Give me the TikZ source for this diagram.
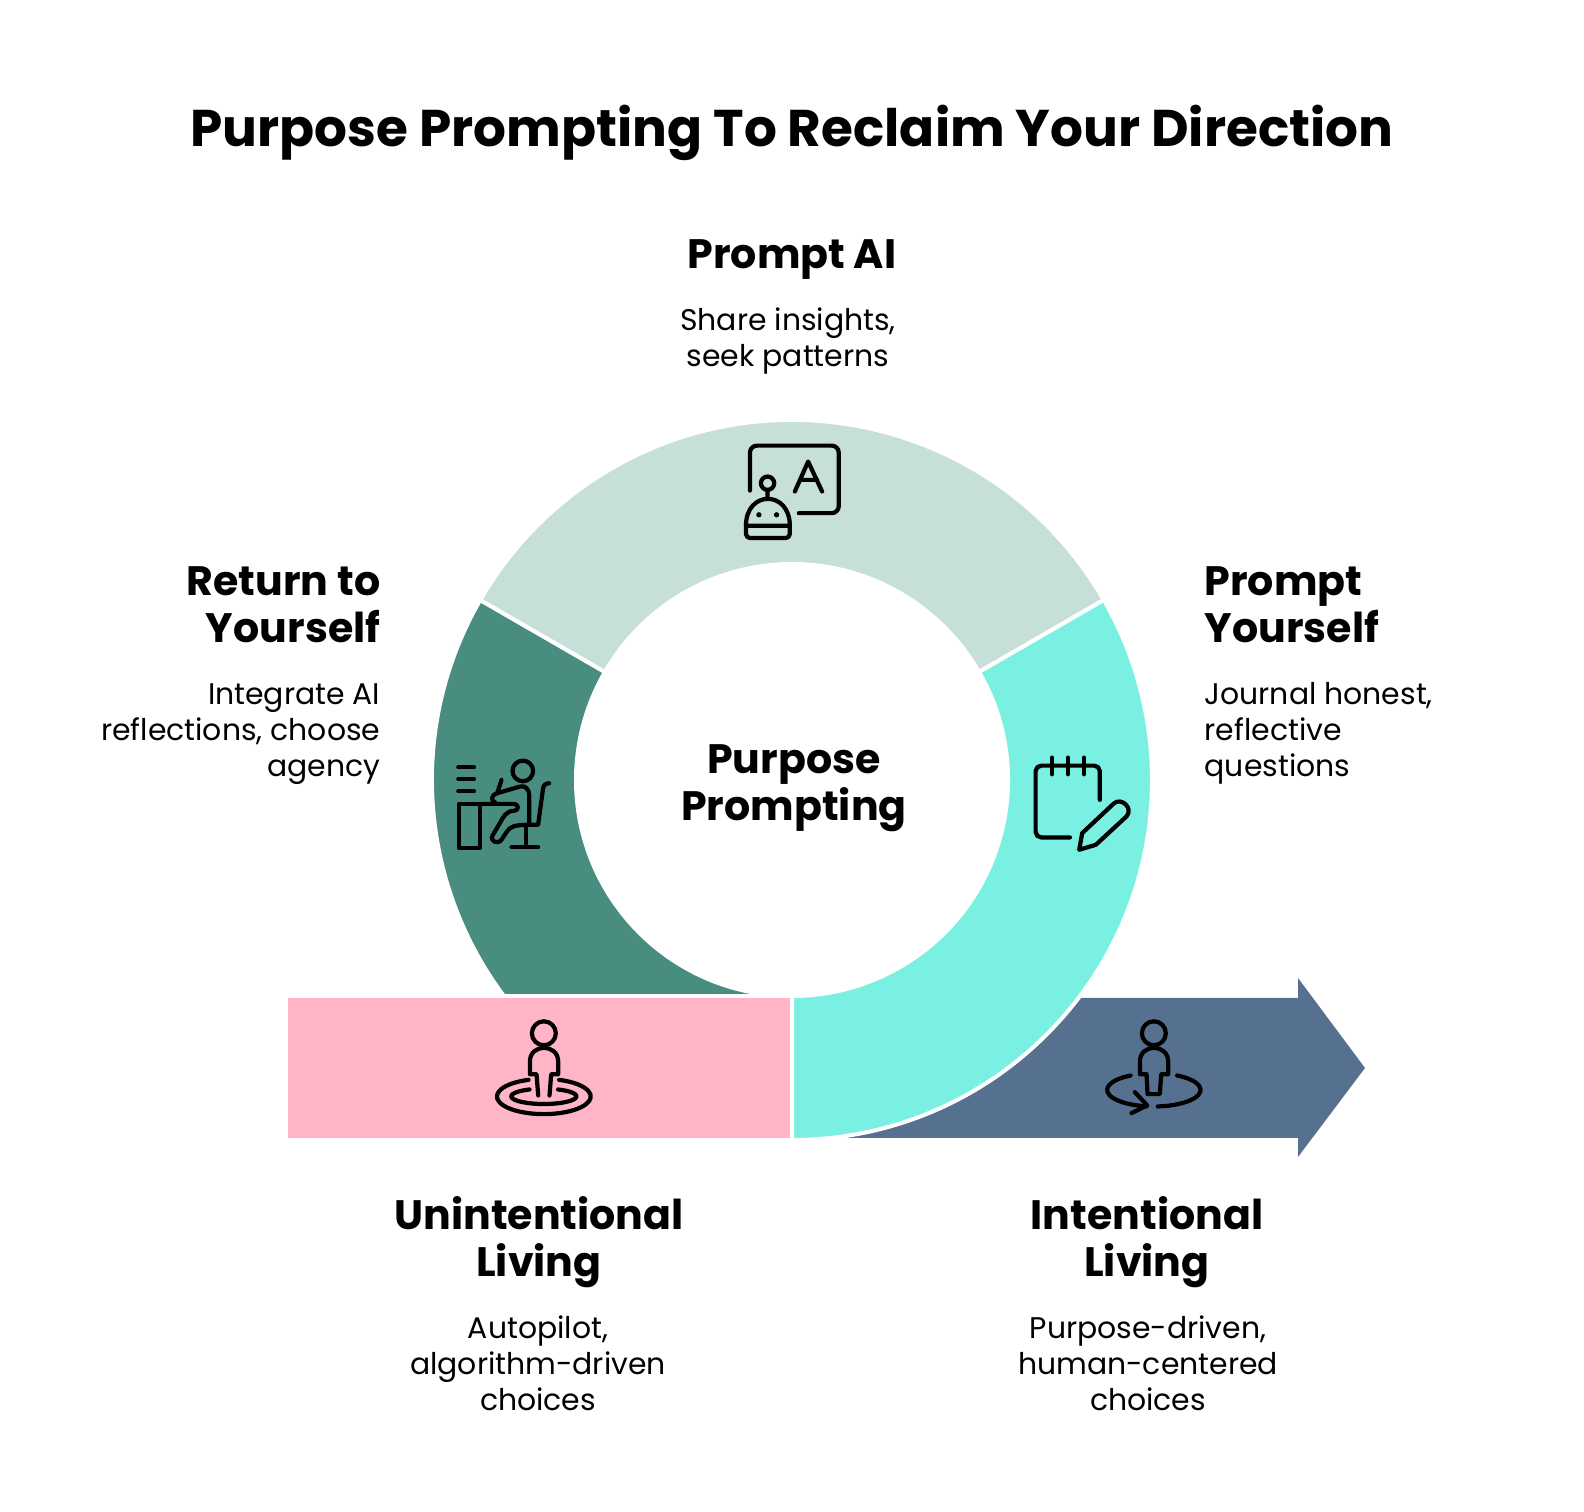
\documentclass[tikz,border=0pt]{standalone}
\usepackage{fontspec}
\setmainfont{Poppins}
\usetikzlibrary{positioning}
\definecolor{ringsage}  {RGB}{198,223,216}
\definecolor{ringforest}{RGB}{72,141,127}
\definecolor{ringteal}  {RGB}{122,240,226}
\definecolor{barpink}   {RGB}{255,181,198}
\definecolor{barslate}  {RGB}{86,113,143}

\begin{document}
\begin{tikzpicture}[
  every node/.style={inner sep=0pt},
  titletext/.style={font=\fontsize{14.7}{17}\selectfont\bfseries},
  headtext/.style={font=\fontsize{11.7}{13.47}\selectfont\bfseries,align=center},
  bodytext/.style={font=\fontsize{8.5}{10.2}\selectfont,align=center},
  seg/.style={draw=white,line width=0.04cm},
  iconline/.style={draw=black,line width=1.2pt,line cap=round,line join=round},
  iconbox/.style={x=0.0033333cm,y=-0.0033333cm},
]
\useasboundingbox (0,0) rectangle (15.84,15.12);

%% ── Title ────────────────────────────────────────────────────────────────
\node[titletext] (title) at (7.92,13.79) {Purpose Prompting To Reclaim Your Direction};

%% ── Ring and bar ─────────────────────────────────────────────────────────
\foreach \segcol/\anga/\angb in {ringforest/150/270,ringsage/30/150}
  \draw[seg,fill=\segcol] (7.92,7.32) ++(\anga:3.6) arc (\anga:\angb:3.6)
    -- ++(\angb:-1.44) arc (\angb:\anga:2.16) -- cycle;

\fill[barslate] (7.94,5.14) -- (12.98,5.14) -- (12.98,5.34) -- (13.65,4.44)
  -- (12.98,3.55) -- (12.98,3.74) -- (7.94,3.74) -- cycle;

\draw[seg,fill=ringteal] (7.92,7.32) ++(-90:3.6) arc (-90:30:3.6)
  -- ++(30:-1.44) arc (30:-90:2.16) -- cycle;

\draw[seg,fill=barpink] (2.86,3.72) rectangle (7.92,5.16);

%% ── Centre ───────────────────────────────────────────────────────────────
\node[headtext] (centre) at (7.94,7.24) {Purpose\\Prompting};

%% ── Labels ───────────────────────────────────────────────────────────────
\node[headtext] (promptai) at (7.92,12.52) {Prompt AI};
\node[bodytext] (promptaibody) at (7.88,11.71) {Share insights,\\seek patterns};

\node[headtext,align=right,anchor=east] (returnhead) at (3.81,9.07) {Return to\\Yourself};
\node[bodytext,align=right,anchor=east] (returnbody) at (3.81,7.78)
  {Integrate AI\\reflections, choose\\agency};

\node[headtext,align=left,anchor=west] (selfhead) at (12.04,9.07) {Prompt\\Yourself};
\node[bodytext,align=left,anchor=west] (selfbody) at (12.04,7.79)
  {Journal honest,\\reflective\\questions};

\node[headtext] (unhead) at (5.39,2.7) {Unintentional\\Living};
\node[bodytext] (unbody) at (5.38,1.49) {Autopilot,\\algorithm-driven\\choices};

\node[headtext] (inhead) at (11.47,2.7) {Intentional\\Living};
\node[bodytext] (inbody) at (11.48,1.49) {Purpose-driven,\\human-centered\\choices};

%% ── Icon: robot and letter ───────────────────────────────────────────────
\begin{scope}[shift={(7.2,10.82)},iconbox]
  \draw[iconline,rounded corners=2pt] (90,182) -- (90,47) -- (357,47) -- (357,250) -- (237,250);
  \draw[iconline] (225,185) -- (265,95) -- (307,185) (240,150) -- (292,150);
  \draw[iconline] (143,160) circle (20) (143,180) -- (143,203);
  \draw[iconline,rounded corners=1.2pt] (78,285) -- (78,325) -- (210,325) -- (210,285);
  \draw[iconline] (78,288) .. controls (78,180) and (210,180) .. (210,288) -- cycle;
  \fill (117,255) circle (8) (170,255) circle (8);
\end{scope}

%% ── Icon: person at desk ─────────────────────────────────────────────────
\begin{scope}[shift={(4.4,7.67)},iconbox]
  \draw[iconline] (55,67) -- (102,67) (55,102) -- (102,102) (55,139) -- (102,139);
  \draw[iconline] (57,177) rectangle (120,310);
  \draw[iconline] (249,78) circle (31);
  \draw[iconline] (120,177) -- (222,177) .. controls (238,177) and (238,198) .. (222,198)
    .. controls (200,198) and (190,215) .. (180,235) -- (158,272)
    .. controls (150,290) and (172,300) .. (185,285) -- (200,262)
    .. controls (210,245) and (225,240) .. (268,240);
  \draw[iconline] (185,105) -- (172,145) .. controls (150,152) and (155,170) .. (165,172);
  \draw[iconline] (172,145) -- (240,125) .. controls (258,120) and (268,135) .. (268,150) -- (268,240)
    -- (295,240) -- (310,130) .. controls (312,120) and (318,115) .. (328,115);
  \draw[iconline] (258,240) -- (258,307) (215,307) -- (295,307);
\end{scope}

%% ── Icon: notepad and pencil ─────────────────────────────────────────────
\begin{scope}[shift={(10.2,7.67)},iconbox]
  \draw[iconline,rounded corners=1.6pt] (240,165) -- (240,62) -- (47,62) -- (47,278) -- (150,278);
  \draw[iconline] (96,38) -- (96,88) (144,38) -- (144,88) (192,38) -- (192,88);
  \draw[iconline] (178,315) -- (187,265) -- (283,175) .. controls (305,157) and (342,190) .. (320,215)
    -- (228,300) -- cycle;
\end{scope}

%% ── Icon: person in still rings ──────────────────────────────────────────
\begin{scope}[shift={(4.8,5.07)},iconbox]
  \draw[iconline] (192,85) circle (36);
  \draw[iconline] (175,272) -- (170,208) -- (150,208) -- (150,170)
    .. controls (150,115) and (235,115) .. (235,170) -- (235,208) -- (214,208) -- (209,272);
  \draw[iconline] (146,225) arc [start angle=-109,end angle=-431,x radius=141,y radius=53];
  \draw[iconline] (149,254) arc [start angle=-116,end angle=-424,x radius=98,y radius=23];
\end{scope}

%% ── Icon: person in turning ring ─────────────────────────────────────────
\begin{scope}[shift={(10.9,5.07)},iconbox]
  \draw[iconline] (192,85) circle (36);
  \draw[iconline] (173,268) -- (170,208) -- (150,208) -- (150,170)
    .. controls (150,115) and (235,115) .. (235,170) -- (235,208) -- (214,208) -- (210,268) -- cycle;
  \draw[iconline] (122,212) arc [start angle=-120,end angle=-261,x radius=141,y radius=50];
  \draw[iconline] (262,212) arc [start angle=-60,end angle=85,x radius=141,y radius=50];
  \draw[iconline] (135,262) -- (172,302) -- (125,325);
\end{scope}

\end{tikzpicture}
\end{document}
